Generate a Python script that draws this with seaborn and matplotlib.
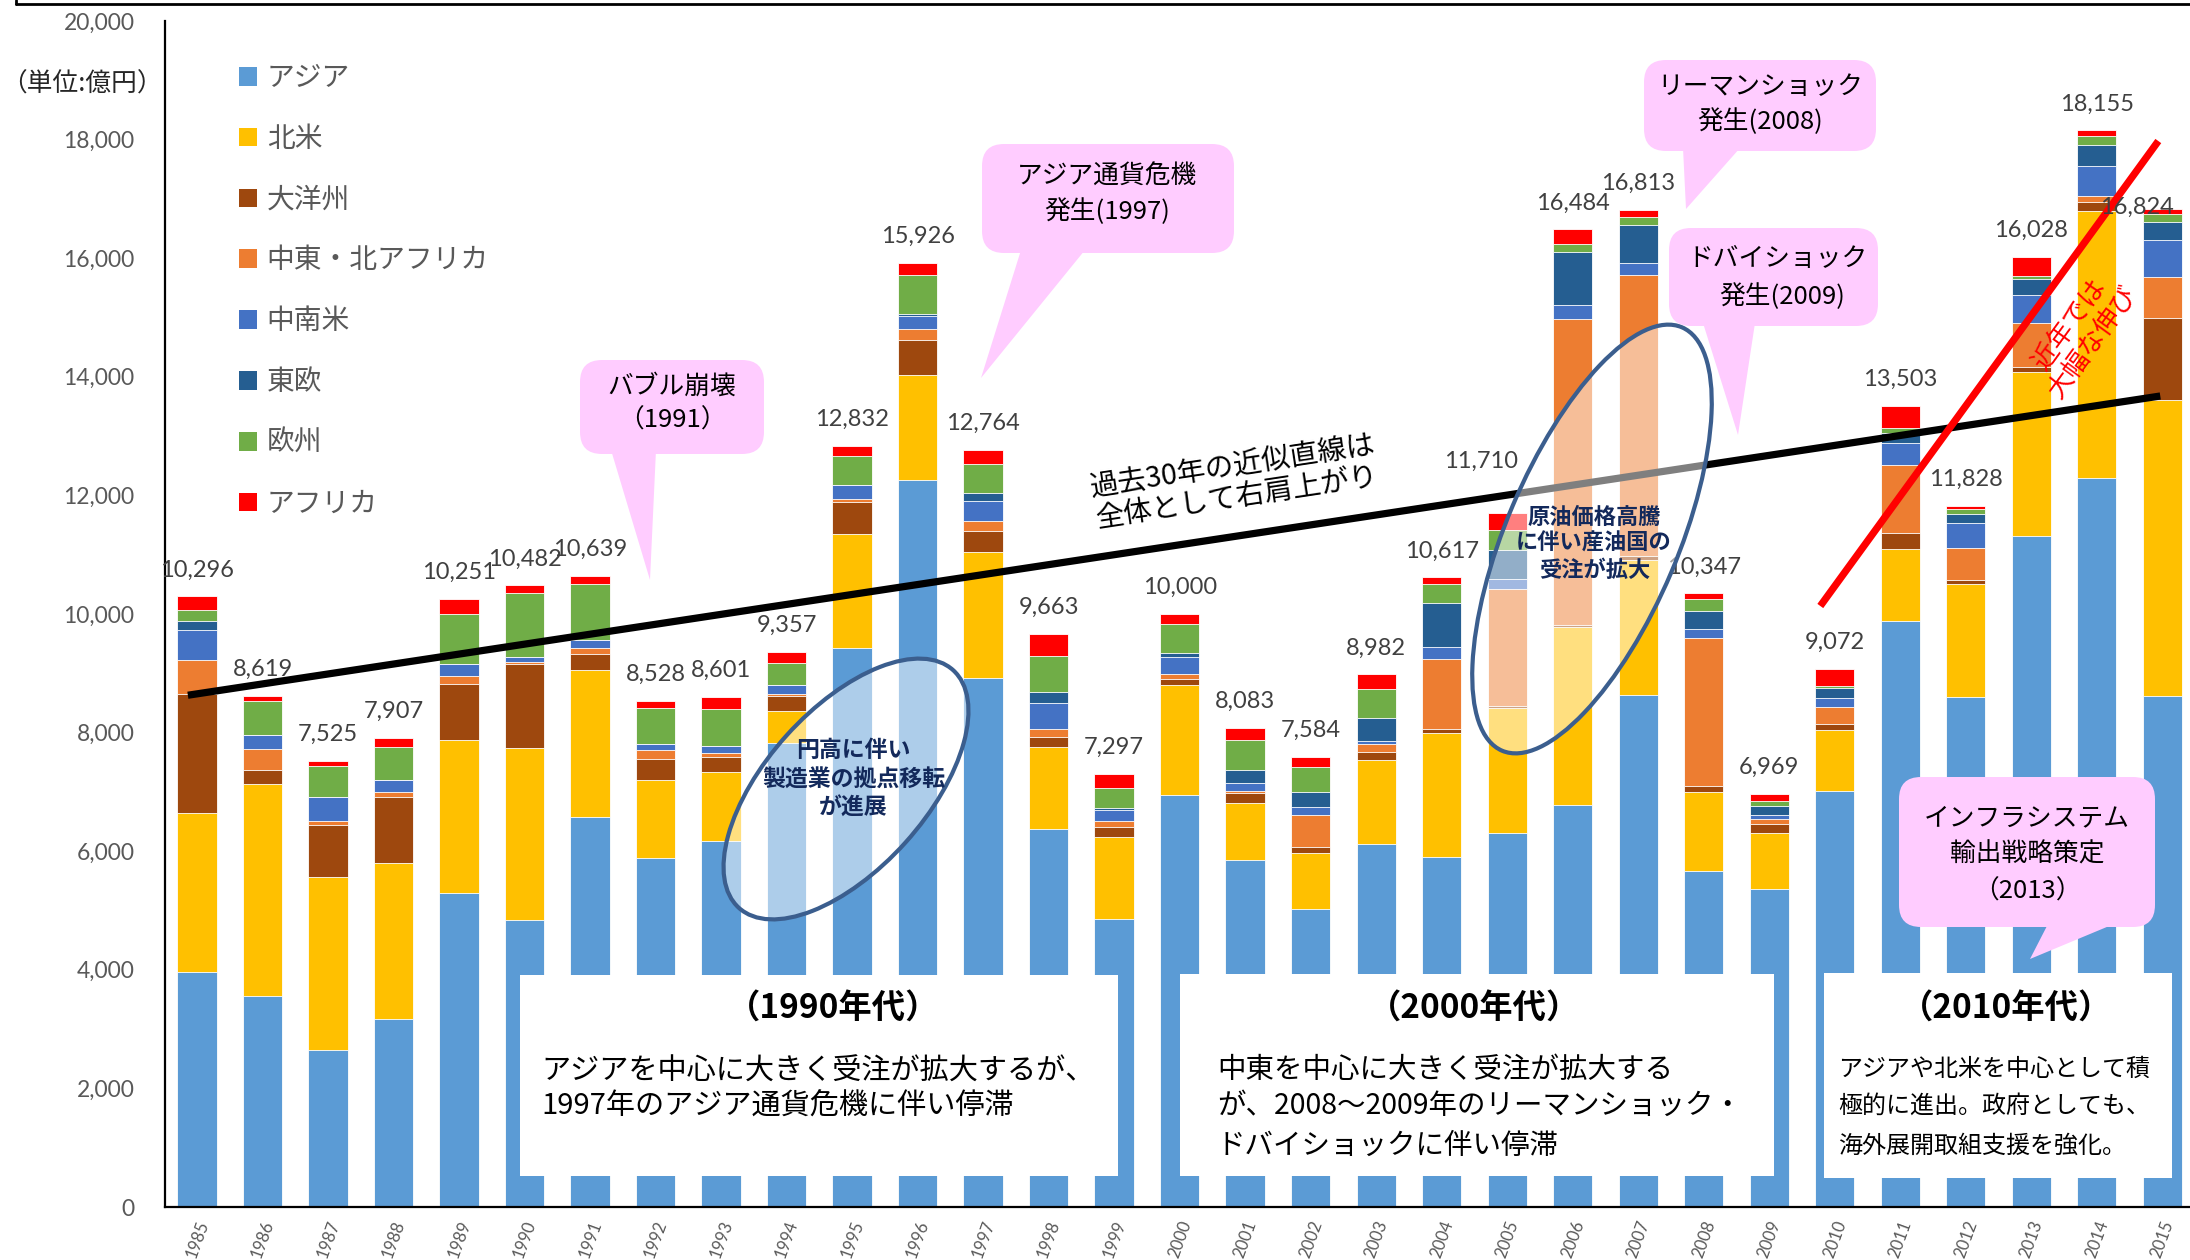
import numpy as np
import pandas as pd
import matplotlib
matplotlib.use("Agg")
import matplotlib.pyplot as plt
import seaborn as sns
from matplotlib.patches import Ellipse, FancyBboxPatch, Polygon, Rectangle
from matplotlib.lines import Line2D
from matplotlib.transforms import IdentityTransform

# 海外受注実績（単位：億円）
years = list(range(1985, 2016))
asia = [3955, 3560, 2646, 3167, 5296, 4834, 6580, 5887, 6177, 7819,
        9435, 12261, 8917, 6369, 4852, 6953, 5852, 5025, 6121, 5897,
        6312, 6779, 8629, 5670, 5359, 7020, 9879, 8600, 11310, 12298, 8618]
north_america = [2687, 3567, 2926, 2630, 2574, 2901, 2468, 1319, 1164, 545,
                 1914, 1762, 2122, 1393, 1382, 1850, 966, 940, 1417, 2102,
                 2108, 3003, 2281, 1325, 948, 1024, 1219, 1907, 2779, 4501, 4995]
oceania = [2017, 236, 873, 1121, 952, 1414, 270, 349, 253, 248,
           535, 591, 366, 169, 180, 106, 169, 101, 140, 56,
           34, 34, 68, 111, 145, 101, 261, 68, 68, 145, 1385]
middle_east = [569, 361, 62, 79, 130, 45, 107, 146, 67, 34,
               56, 186, 158, 130, 101, 74, 23, 539, 124, 1181,
               1968, 5162, 4741, 2486, 94, 282, 1162, 533, 755, 98, 678]
latin_america = [502, 242, 411, 197, 197, 85, 130, 107, 113, 157,
                 237, 231, 349, 433, 175, 292, 135, 135, 57, 202,
                 163, 233, 197, 155, 61, 151, 358, 425, 464, 513, 639]
eastern_europe = [157, 0, 0, 0, 0, 0, 0, 0, 0, 0,
                  0, 28, 124, 196, 39, 73, 219, 264, 393, 753,
                  494, 895, 646, 302, 147, 179, 174, 145, 272, 357, 301]
europe = [181, 564, 519, 569, 857, 1076, 952, 603, 619, 376,
          484, 653, 495, 602, 337, 478, 516, 411, 478, 315,
          338, 137, 130, 197, 86, 29, 77, 87, 48, 155, 134]
africa = [228, 89, 88, 144, 245, 127, 132, 117, 208, 178,
          171, 214, 233, 371, 231, 174, 203, 169, 252, 111,
          293, 241, 121, 101, 129, 286, 373, 63, 332, 88, 74]

regions = ["アジア", "北米", "大洋州", "中東・北アフリカ", "中南米", "東欧", "欧州", "アフリカ"]
palette = ["#5B9BD5", "#FFC000", "#9E480E", "#ED7D31", "#4472C4", "#255E91", "#70AD47", "#FF0000"]
series = [asia, north_america, oceania, middle_east, latin_america, eastern_europe, europe, africa]

df = pd.DataFrame({name: vals for name, vals in zip(regions, series)})
cum = df.cumsum(axis=1)
cum["year"] = [str(y) for y in years]
totals = cum[regions[-1]].to_numpy()

sns.set_style("white")
plt.rcParams["font.family"] = ["Lato", "Noto Sans CJK JP"]
JP = ["Noto Sans CJK JP", "DejaVu Sans"]

W, H = 2190, 1260
fig = plt.figure(figsize=(W / 100, H / 100), dpi=100)
fig.patch.set_facecolor("white")
ax = fig.add_axes([165 / W, (H - 1207) / H, (2195 - 165) / W, (1207 - 21) / H])

# stacked bars: draw cumulative heights from the top layer down
for name, color in reversed(list(zip(regions, palette))):
    sns.barplot(data=cum, x="year", y=name, color=color, saturation=1, width=0.6,
                errorbar=None, edgecolor="white", linewidth=0.6, ax=ax, zorder=2)

ax.set_xlim(-0.489, 30.5)
ax.set_ylim(0, 20000)
ax.set_xlabel("")
ax.set_ylabel("")
ax.set_yticks(range(0, 20001, 2000))
ax.set_yticklabels([f"{v:,}" for v in range(0, 20001, 2000)])
ax.tick_params(axis="y", direction="in", length=5, width=1.5, pad=22,
               labelsize=16.5, labelcolor="#595959")
ax.tick_params(axis="x", length=0, pad=8, labelsize=12, labelcolor="#595959")
for lbl in ax.get_xticklabels():
    lbl.set_rotation(70)
    lbl.set_ha("center")
for side in ["top", "right"]:
    ax.spines[side].set_visible(False)
for side in ["left", "bottom"]:
    ax.spines[side].set_color("black")
    ax.spines[side].set_linewidth(1.6)

# total labels
label_offsets = {2005: (-18.7, 32.4), 2015: (-18.0, -3.6)}
for i, (yr, tot) in enumerate(zip(years, totals)):
    dx, dy = label_offsets.get(yr, (0, 14.4))
    ax.annotate(f"{int(tot):,}", xy=(i, tot), xytext=(dx, dy), textcoords="offset points",
                ha="center", va="baseline", fontsize=17, color="#404040", zorder=7)

# trend line of the 30 years
ax.plot([-0.14, 29.97], [8630, 13676], color="black", lw=5.2, solid_capstyle="butt", zorder=3)
# recent growth line
ax.plot([24.78, 29.94], [10135, 17976], color="#FF0000", lw=5.2, solid_capstyle="butt", zorder=3.5)

# legend
handles = [Rectangle((0, 0), 1, 1, facecolor=c, edgecolor="none") for c in palette]
leg = ax.legend(handles, regions, loc="upper left", bbox_to_anchor=(239 / W, 1 - 63 / H),
                bbox_transform=fig.transFigure, frameon=False, prop={"family": JP, "size": 20},
                handlelength=0.65, handleheight=0.65, handletextpad=0.35, labelspacing=1.11,
                borderpad=0, borderaxespad=0)
for t in leg.get_texts():
    t.set_color("#595959")

IDT = IdentityTransform()


def px(x, y):
    return (x, H - y)


def ftext(x, y, s, **kw):
    kw.setdefault("family", JP)
    kw.setdefault("zorder", 7)
    return fig.text(*px(x, y), s, transform=IDT, **kw)


ftext(82, 85, "（単位:億円）", ha="center", va="center", fontsize=18.5, color="#262626")

# frame edge at the top
fig.add_artist(Line2D([16, W], [H - 4, H - 4], transform=IDT, color="black", lw=2))
fig.add_artist(Line2D([16, 16], [H, H - 4], transform=IDT, color="black", lw=2))

ftext(1235, 482, "過去30年の近似直線は\n全体として右肩上がり", ha="center", va="center",
      rotation=8.6, rotation_mode="anchor", fontsize=20.5, color="black", linespacing=1.12,
      multialignment="center")
ftext(2081, 333, "近年では\n大幅な伸び", ha="center", va="center", rotation=54,
      rotation_mode="anchor", fontsize=19, color="#FF0000", linespacing=1.15,
      multialignment="center")

# ellipses highlighting periods
for cx, cy, w, h, ang in [(846, 789, 320, 160, 48), (1592, 539, 460, 172, 67)]:
    fig.add_artist(Ellipse(px(cx, cy), w, h, angle=ang, transform=IDT,
                           facecolor=(1, 1, 1, 0.5), edgecolor="#3B5E8E", lw=3, zorder=4))
for x, y, s in [(853, 750, "円高に伴い"), (854, 779, "製造業の拠点移転"), (853, 807, "が進展")]:
    ftext(x, y, s, ha="center", va="center", fontsize=16.5, weight="bold", color="#13295B")
for x, y, s in [(1594, 517, "原油価格高騰"), (1594, 543, "に伴い産油国の"), (1595, 570, "受注が拡大")]:
    ftext(x, y, s, ha="center", va="center", fontsize=16, weight="bold", color="#13295B")

# speech-bubble callouts
PINK = "#FFCCFF"


def callout(box, tri, texts):
    x0, y0, x1, y1 = box
    fig.add_artist(FancyBboxPatch(px(x0, y1), x1 - x0, y1 - y0,
                                  boxstyle="round,pad=0,rounding_size=22", transform=IDT,
                                  facecolor=PINK, edgecolor="none", zorder=5))
    fig.add_artist(Polygon([px(*p) for p in tri], closed=True, transform=IDT,
                           facecolor=PINK, edgecolor="none", zorder=5))
    for tx, ty, s in texts:
        ftext(tx, ty, s, ha="center", va="center", fontsize=18.5, color="black")


callout((580, 360, 764, 454), [(611, 450), (656, 450), (650, 580)],
        [(672, 387, "バブル崩壊"), (672, 421, "（1991）")])
callout((982, 144, 1234, 253), [(1021, 250), (1085, 250), (981, 378)],
        [(1107, 177, "アジア通貨危機"), (1107, 212, "発生(1997)")])
callout((1644, 60, 1876, 151), [(1683, 148), (1740, 148), (1686, 209)],
        [(1760, 87, "リーマンショック"), (1760, 122, "発生(2008)")])
callout((1669, 228, 1878, 326), [(1703, 323), (1755, 323), (1738, 435)],
        [(1778, 259, "ドバイショック"), (1782, 297, "発生(2009)")])
callout((1899, 777, 2155, 927), [(2048, 924), (2114, 924), (2030, 959)],
        [(2027, 818, "インフラシステム"), (2027, 855, "輸出戦略策定"), (2027, 892, "（2013）")])

# decade summary boxes
for x0, y0, x1, y1 in [(520, 975, 1118, 1176), (1180, 974, 1774, 1176), (1824, 973, 2172, 1178)]:
    fig.add_artist(Rectangle(px(x0, y1), x1 - x0, y1 - y0, transform=IDT,
                             facecolor="white", edgecolor="none", zorder=5))

for x, s in [(833, "（1990年代）"), (1474, "（2000年代）"), (2006, "（2010年代）")]:
    ftext(x, 1009, s, ha="center", va="center", fontsize=24, weight="bold", color="black")

for y, s in [(1072, "アジアを中心に大きく受注が拡大するが、"), (1107, "1997年のアジア通貨危機に伴い停滞")]:
    ftext(541, y, s, ha="left", va="center", fontsize=21, color="black")
for y, s in [(1070, "中東を中心に大きく受注が拡大する"), (1106, "が、2008～2009年のリーマンショック・"),
             (1146, "ドバイショックに伴い停滞")]:
    ftext(1217, y, s, ha="left", va="center", fontsize=20.5, color="black")
for y, s in [(1069, "アジアや北米を中心として積"), (1106, "極的に進出。政府としても、"),
             (1146, "海外展開取組支援を強化。")]:
    ftext(1838, y, s, ha="left", va="center", fontsize=17.3, color="black")

fig.savefig("out.png", dpi=100, facecolor="white")
